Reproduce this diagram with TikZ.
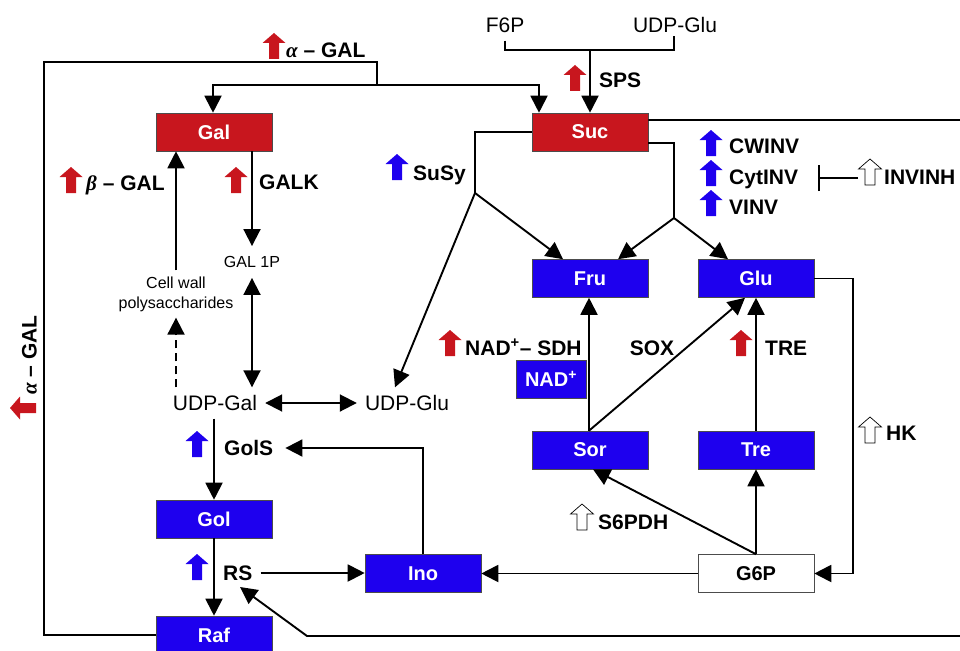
\documentclass[tikz,border=0pt]{standalone}
\usepackage{fontspec}
\setmainfont{Liberation Sans}
\newfontfamily\greekfont{Liberation Serif}
\usetikzlibrary{arrows.meta}
\definecolor{redA}{RGB}{200,22,30}
\definecolor{blueA}{RGB}{30,0,238}
\begin{document}
\begin{tikzpicture}[x=1pt,y=-1pt,
  box/.style={draw=black!70, line width=0.6pt, minimum width=116pt, minimum height=38pt, inner sep=0pt, font=\bfseries\fontsize{20}{20}\selectfont, text=white},
  redbox/.style={box, fill=redA},
  bluebox/.style={box, fill=blueA},
  whitebox/.style={box, fill=white, text=black},
  lbl/.style={font=\bfseries\fontsize{21}{21}\selectfont, inner sep=0pt, text height=15pt, text depth=0pt, anchor=west},
  met/.style={font=\fontsize{21}{21}\selectfont, inner sep=8pt, text height=15pt, text depth=0pt},
  ln/.style={line width=1.9pt},
  arr/.style={ln, -{Triangle[length=17pt,width=17pt]}},
  darr/.style={ln, {Triangle[length=17pt,width=17pt]}-{Triangle[length=17pt,width=17pt]}},
  pics/fatarrow/.style={code={\path[#1] (-5,13) -- (-5,-3) -- (-11.5,-3) -- (0,-13) -- (11.5,-3) -- (5,-3) -- (5,13) -- cycle;}},
]
\useasboundingbox (0,0) rectangle (960,650);
\clip (0,0) rectangle (960,650);

% boxes
\node[redbox] (gal) at (214,132) {Gal};
\node[redbox] (suc) at (590,132) {Suc};
\node[bluebox] (fru) at (590,278.5) {Fru};
\node[bluebox] (glu) at (756,278.5) {Glu};
\node[bluebox] (sor) at (590,450) {Sor};
\node[bluebox] (tre) at (756,450) {Tre};
\node[whitebox] (g6p) at (756,573.5) {G6P};
\node[bluebox] (ino) at (423,573.5) {Ino};
\node[bluebox] (gol) at (214,519) {Gol};
\node[bluebox] (raf) at (214,635) {Raf};
\node[bluebox, minimum width=70pt] (nad) at (551,379) {NAD\textsuperscript{+}};

% metabolite texts
\node[met] (f6p) at (505,25) {F6P};
\node[met] (udpgluT) at (675,25) {UDP-Glu};
\node[met] (udpgal) at (215,403) {UDP-Gal};
\node[met] (udpglu) at (407,403) {UDP-Glu};
\node[font=\fontsize{16}{16}\selectfont, inner xsep=2pt, inner ysep=10pt, text height=11.5pt, text depth=0pt] (gal1p) at (252,262) {GAL 1P};
\node[font=\fontsize{16}{20}\selectfont, inner sep=6pt, align=center] (cwp) at (176,294) {Cell wall\\polysaccharides};

% enzyme labels
\node[lbl] (agalT) at (286,50) {{\greekfont\itshape α} – GAL};
\node[lbl] (sps) at (599,80) {SPS};
\node[lbl] (bgal) at (86,183) {{\greekfont\itshape β} – GAL};
\node[lbl] (galk) at (259,182) {GALK};
\node[lbl] (susy) at (413,173) {SuSy};
\node[lbl] (cwinv) at (729,146) {CWINV};
\node[lbl] (cytinv) at (729,177) {CytINV};
\node[lbl] (vinv) at (729,207) {VINV};
\node[lbl] (invinh) at (884,177) {INVINH};
\node[lbl] (sdh) at (465,348) {NAD\textsuperscript{+}– SDH};
\node[lbl, anchor=center] (sox) at (652,348) {SOX};
\node[lbl] (treL) at (765,348) {TRE};
\node[lbl] (hk) at (886,433) {HK};
\node[lbl] (s6pdh) at (598,522) {S6PDH};
\node[lbl] (gols) at (224,448) {GolS};
\node[lbl] (rs) at (223,573) {RS};
\node[lbl, anchor=center, rotate=90] (agalL) at (29,355) {{\greekfont\itshape α} – GAL};

% arrow icons
\pic at (274,46) {fatarrow={fill=redA}};
\pic at (575,78) {fatarrow={fill=redA}};
\pic at (71,180) {fatarrow={fill=redA}};
\pic at (236,180) {fatarrow={fill=redA}};
\pic at (397,167) {fatarrow={fill=blueA}};
\pic at (711,143) {fatarrow={fill=blueA}};
\pic at (711,173) {fatarrow={fill=blueA}};
\pic at (711,203) {fatarrow={fill=blueA}};
\pic at (870,172) {fatarrow={fill=white, draw=black, line width=0.7pt}};
\pic at (450,343) {fatarrow={fill=redA}};
\pic at (741,343) {fatarrow={fill=redA}};
\pic at (870,430) {fatarrow={fill=white, draw=black, line width=0.7pt}};
\pic at (582,517) {fatarrow={fill=white, draw=black, line width=0.7pt}};
\pic at (197,444) {fatarrow={fill=blueA}};
\pic at (197,567) {fatarrow={fill=blueA}};
\pic[rotate=90] at (23,408) {fatarrow={fill=redA}};

% junction coordinates
\coordinate (jTop) at (377,85);
\coordinate (jF6) at (590,50);
\coordinate (jSusy) at (475,193);
\coordinate (jSucR) at (674,218);
\coordinate (jHK) at (853,278.5);
\coordinate (rsTip) at (240,587);
\coordinate (invArr) at (858,178);

% connectors
\draw[ln] (raf.west) -- (44,635) |- (377,62) -- (jTop);
\draw[arr] (jTop) -| ([xshift=-1pt]gal.north);
\draw[arr] (jTop) -| ([xshift=-51pt]suc.north);
\draw[ln] (f6p.south) |- (674,50) -- (674,36);
\draw[arr] (jF6) -- (suc.north);
\draw[arr] ([xshift=38pt]gal.south) -- (gal1p.north);
\draw[darr] (gal1p.south) -- (gal1p.south |- udpgal.north);
\draw[arr] (cwp.north) -- (cwp.north |- gal.south);
\draw[arr, dash pattern=on 8pt off 5pt] (cwp.south |- udpgal.north) -- (cwp.south);
\draw[darr] (udpgal.east) -- (udpglu.west);
\draw[arr] (udpgal.south -| gol.north) -- (gol.north);
\draw[arr] (gol) -- (raf);
\draw[arr] (ino.north) |- ([xshift=12pt]gols.east);
\draw[arr] ([xshift=8pt]rs.east) -- (rs.east -| ino.west);
\draw[arr] (g6p.west) -- (ino.east);
\draw[arr] (glu.east) -- (jHK) |- (g6p.east);
\draw[arr] (g6p.north) -- (tre.south);
\draw[arr] (g6p.north) -- ([xshift=3pt]sor.south);
\draw[arr] (tre.north) -- (glu.south);
\draw[arr] ([xshift=-1pt]sor.north) -- ([xshift=-1pt]fru.south);
\draw[arr] ([xshift=-1pt]sor.north) -- ([xshift=-11pt]glu.south);
\draw[ln] (suc.west) -| (jSusy);
\draw[arr] (jSusy) -- ([xshift=-27pt]fru.north);
\draw[arr] (jSusy) -- ([xshift=-12pt]udpglu.north);
\draw[ln] ([yshift=-11pt]suc.east) -| (jSucR);
\draw[arr] (jSucR) -- ([xshift=28pt]fru.north);
\draw[arr] (jSucR) -- ([xshift=-28pt]glu.north);
\draw[arr] ([yshift=12pt]suc.east) -- (965,120) -- (965,636) -- (307,636) -- (rsTip);
\draw[ln, -{Bar[width=26pt]}] (invArr) -- (818,178);
\end{tikzpicture}
\end{document}
